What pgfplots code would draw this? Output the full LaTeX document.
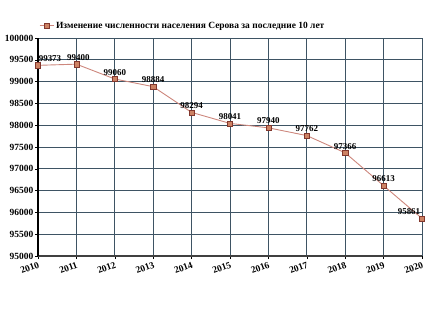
\documentclass[border=0pt]{standalone}
\usepackage{pgfplots}
\usepackage{pgfplotstable}
\pgfplotsset{compat=1.18}
\usepackage{fontspec}
\setmainfont{Liberation Serif}
\definecolor{gridc}{RGB}{62,84,100}
\definecolor{linec}{RGB}{205,135,125}
\definecolor{markf}{RGB}{205,130,100}
\definecolor{markd}{RGB}{130,55,45}
\pgfplotstableread{
year pop dx
2010 99373 12
2011 99400 2
2012 99060 0
2013 98884 0
2014 98294 0
2015 98041 0
2016 97940 0
2017 97762 0
2018 97366 0
2019 96613 0
2020 95861 -13
}\datatable
\begin{document}
\begin{tikzpicture}
\useasboundingbox (-38bp,-64bp) rectangle (397bp,256bp);
\begin{axis}[
  scale only axis,
  width=384bp, height=218bp,
  at={(0,0)}, anchor=south west,
  xmin=2010, xmax=2020, ymin=95000, ymax=100000,
  xtick={2010,2011,2012,2013,2014,2015,2016,2017,2018,2019,2020},
  xticklabels={2010,2011,2012,2013,2014,2015,2016,2017,2018,2019,2020},
  ytick={95000,95500,96000,96500,97000,97500,98000,98500,99000,99500,100000},
  yticklabels={95000,95500,96000,96500,97000,97500,98000,98500,99000,99500,100000},
  scaled ticks=false,
  grid=major,
  major grid style={gridc, line width=0.9bp},
  axis x line*=bottom, axis y line*=left,
  x axis line style={line width=1.6bp, color=black!75, -},
  y axis line style={line width=1.2bp, black, -},
  tick align=outside,
  major tick length=3bp,
  tick style={black, line width=0.6bp},
  ticklabel style={font=\bfseries\fontsize{9.5}{10}\selectfont},
  xticklabel style={rotate=20, anchor=north east, inner sep=1bp, yshift=-1bp},
  yticklabel style={inner sep=1.5bp},
  clip=false,
  legend style={at={(0,1)}, anchor=south west, yshift=5bp, draw=none, fill=none,
    font=\bfseries\fontsize{9.5}{10}\selectfont, inner sep=1bp},
  legend image code/.code={
    \draw[linec, line width=0.9bp] (0bp,0bp) -- (14bp,0bp);
    \draw[markd, fill=markf, line width=0.5bp] (4.5bp,-2.5bp) rectangle (9.5bp,2.5bp);
  },
]
\addplot[linec, line width=0.9bp, mark=square*, mark size=2.6bp,
  mark options={fill=markf, draw=markd, line width=0.5bp},
  point meta=explicit symbolic,
  visualization depends on={\thisrow{dx} \as \dx},
  nodes near coords,
  nodes near coords style={anchor=south, xshift=\dx bp, yshift=2bp, inner sep=1.5bp, text=black,
    font=\bfseries\fontsize{9}{10}\selectfont},
] table[x=year, y=pop, meta=pop] {\datatable};
\addlegendentry{Изменение численности населения Серова за последние 10 лет}
\end{axis}
\end{tikzpicture}
\end{document}
